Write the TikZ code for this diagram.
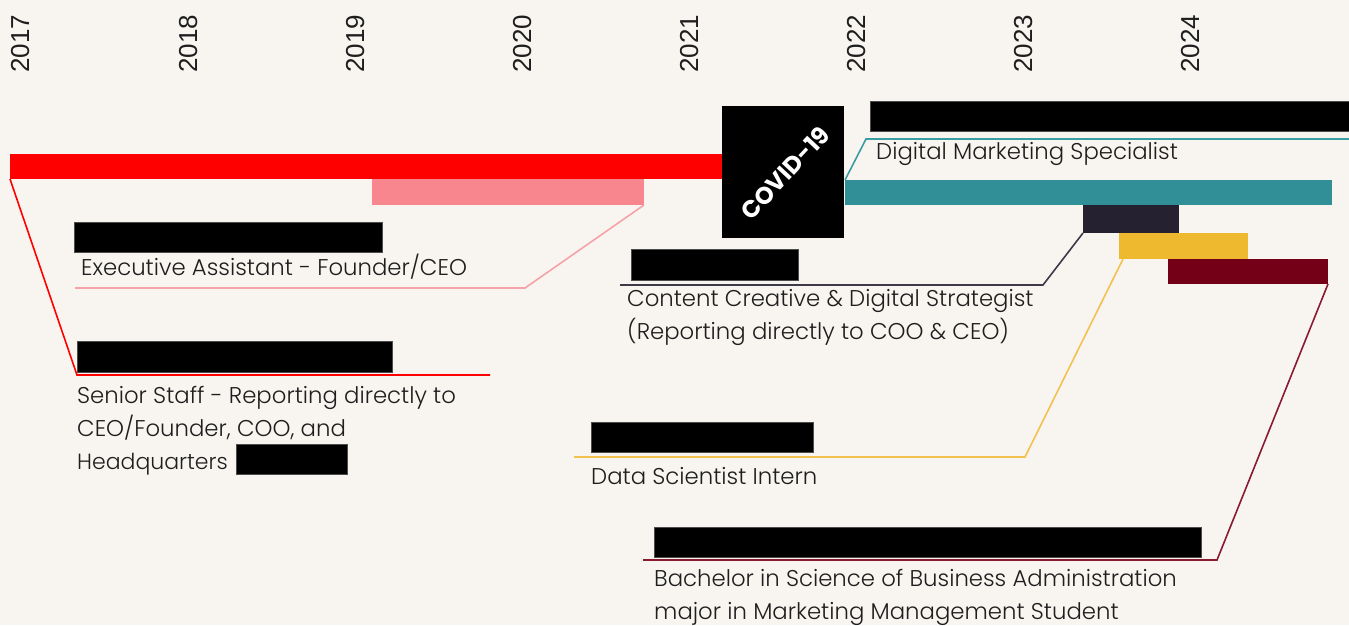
\documentclass[tikz,border=0pt]{standalone}
\usepackage{fontspec}
\setmainfont{Poppins}[UprightFont=* Light]
\newfontfamily\markfont{Poppins}
\newfontfamily\yearfont{Liberation Sans}
\definecolor{paper}{HTML}{F8F5F0}
\definecolor{ink}{HTML}{1E1E1E}
\definecolor{cRed}{HTML}{FF0000}
\definecolor{cPink}{HTML}{F7868F}
\definecolor{cPinkLine}{HTML}{F5A3A8}
\definecolor{cTeal}{HTML}{318F98}
\definecolor{cTealLine}{HTML}{3A9DA3}
\definecolor{cDark}{HTML}{262130}
\definecolor{cDarkLine}{HTML}{3C3A48}
\definecolor{cYellow}{HTML}{EEB92E}
\definecolor{cYellowLine}{HTML}{F2C14E}
\definecolor{cWine}{HTML}{730016}
\definecolor{cWineLine}{HTML}{8A1A30}
\newcommand\bodysize{\fontsize{22.8}{33}\selectfont}
\begin{document}
\begin{tikzpicture}[x=1pt,y=-1pt,
  bar/.style={draw=none,inner sep=0pt,outer sep=0pt,anchor=north west},
  redact/.style={fill=black,draw=black!70,line width=0.4pt,inner sep=0pt,outer sep=0pt,anchor=north west},
  year/.style={font=\yearfont\fontsize{26}{26}\selectfont,text=ink,rotate=90,anchor=base west,inner sep=0pt},
  label/.style={font=\bodysize,text=ink,anchor=base west,inner sep=0pt,align=left},
  link/.style={line width=1.6pt,line join=miter}]
\fill[paper] (0,0) rectangle (1349,625);
\useasboundingbox (0,0) rectangle (1349,625);

% year axis
\foreach \yr/\xx in {2017/29,2018/197,2019/364,2020/531,2021/698,2022/865,2023/1032,2024/1199}
  \node[year] (y\yr) at (\xx,73) {\yr};

% timeline bars
\node[bar,fill=cRed,minimum width=712pt,minimum height=25pt] (red) at (10,154) {};
\node[bar,fill=cPink,minimum width=272pt,minimum height=26pt] (pink) at (372,179) {};
\node[bar,fill=cTeal,minimum width=487pt,minimum height=25pt] (teal) at (845,180) {};
\node[bar,fill=cDark,minimum width=96pt,minimum height=28pt] (dark) at (1083,205) {};
\node[bar,fill=cYellow,minimum width=129pt,minimum height=26pt] (yellow) at (1119,233) {};
\node[bar,fill=cWine,minimum width=160pt,minimum height=25pt] (wine) at (1168,259) {};

% covid marker
\node[bar,fill=black,minimum width=122pt,minimum height=132pt] (covid) at (722,106) {};
\node[rotate=47,text=white,font=\markfont\bfseries\fontsize{24}{24}\selectfont,inner sep=0pt]
  (covidtxt) at ([xshift=2pt,yshift=-1pt]covid.center) {COVID-19};

% redacted blocks
\node[redact,minimum width=479pt,minimum height=30pt] (rTop) at (870,101) {};
\node[redact,minimum width=308pt,minimum height=30pt] (rExec) at (74,222) {};
\node[redact,minimum width=315pt,minimum height=31pt] (rSenior) at (77,341) {};
\node[redact,minimum width=111pt,minimum height=30pt] (rHQ) at (236,444) {};
\node[redact,minimum width=167pt,minimum height=31pt] (rContent) at (631,249) {};
\node[redact,minimum width=222pt,minimum height=30pt] (rData) at (591,422) {};
\node[redact,minimum width=547pt,minimum height=30pt] (rBach) at (654,527) {};

% role labels
\node[label] (tDigital) at (876,159) {Digital Marketing Specialist};
\node[label] (tExec) at (81,275) {Executive Assistant - Founder/CEO};
\node[label] (tSenior1) at (77,403) {Senior Staff - Reporting directly to};
\node[label] (tSenior2) at (77,436) {CEO/Founder, COO, and};
\node[label,font=\fontsize{22}{33}\selectfont] (tSenior3) at (77,469) {Headquarters};
\node[label] (tContent1) at (627,306) {Content Creative \& Digital Strategist};
\node[label] (tContent2) at (627,339) {(Reporting directly to COO \& CEO)};
\node[label] (tData) at (591,484) {Data Scientist Intern};
\node[label] (tBach1) at (654,586) {Bachelor in Science of Business Administration};
\node[label] (tBach2) at (654,619) {major in Marketing Management Student};

% leader lines from bars to their labels
\coordinate (kRed) at (77,375);   \coordinate (eRed) at (490,375);
\coordinate (kPink) at (525,288); \coordinate (ePink) at (75,288);
\coordinate (kTeal) at (866,139); \coordinate (eTeal) at (1349,139);
\coordinate (kDark) at (1043,285);\coordinate (eDark) at (620,285);
\coordinate (kYel) at (1025,457); \coordinate (eYel) at (574,457);
\coordinate (kWine) at (1217,560);\coordinate (eWine) at (643,560);

\draw[link,cRed] (red.south west) -- (kRed) -- (eRed);
\draw[link,cPinkLine] (pink.south east) -- (kPink) -- (ePink);
\draw[link,cTealLine] (teal.north west) -- (kTeal) -- (eTeal);
\draw[link,cDarkLine] (dark.south west) -- (kDark) -- (eDark);
\draw[link,cYellowLine] ([xshift=4pt]yellow.south west) -- (kYel) -- (eYel);
\draw[link,cWineLine] (wine.south east) -- (kWine) -- (eWine);
\end{tikzpicture}
\end{document}
